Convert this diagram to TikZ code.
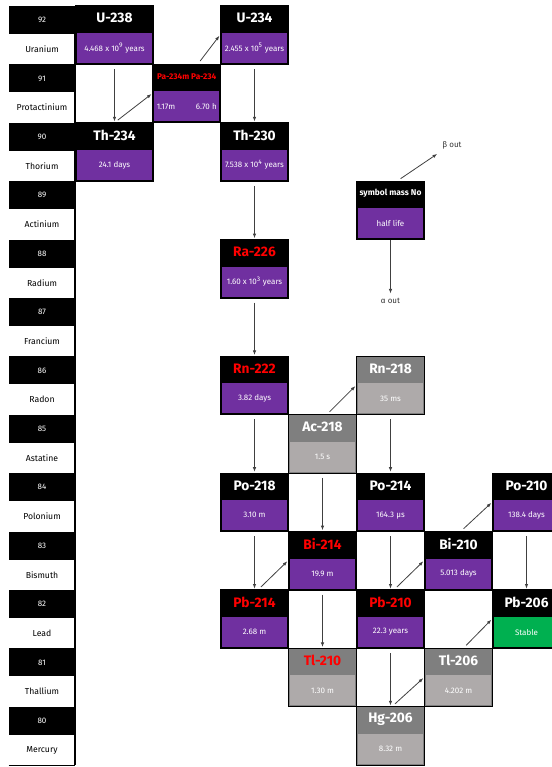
\documentclass[tikz,border=0pt]{standalone}
\usepackage{fontspec}
\setmainfont{Fira Sans}
\usetikzlibrary{arrows.meta}

\definecolor{halfpurple}{HTML}{7030A0}
\definecolor{headgray}{HTML}{7F7F7F}
\definecolor{lifegray}{HTML}{AEAAAA}
\definecolor{stablegreen}{HTML}{00B050}
\definecolor{arrowgray}{HTML}{404040}

\tikzset{
	nucbox/.style={draw=black, line width=1pt, minimum height=43.8pt, inner sep=0pt},
	nuchead/.style={text=white, font=\bfseries\fontsize{10.3}{12}\selectfont, inner sep=0pt},
	nuclife/.style={text=white, font=\fontsize{6}{7}\selectfont, minimum height=22.5pt, inner sep=0pt},
	zcell/.style={fill=black, text=white, minimum width=49.5pt, minimum height=21pt, font=\fontsize{6}{7}\selectfont, inner sep=0pt},
	namecell/.style={fill=white, minimum width=49.5pt, minimum height=22.8pt, font=\fontsize{6.5}{8}\selectfont, inner sep=0pt},
	decay/.style={->, draw=arrowgray, line width=0.6pt},
	alphadecay/.style={decay, shorten <=3pt, shorten >=0.5pt},
	betadecay/.style={decay, shorten <=2.5pt, shorten >=0.5pt},
}

% [width] name, position, head fill, life fill, symbol, half life
\newcommand{\nuc}[7][51pt]{%
	\node[nucbox, minimum width=#1, fill=#4] (#2) at (#3) {};
	\node[nuchead] (#2-sym) at ([yshift=-9.75pt]#2.north) {#6};
	\node[nuclife, minimum width=#1-2pt, fill=#5] (#2-life) at ([yshift=12.75pt]#2.south) {#7};
}

\begin{document}
\begin{tikzpicture}[x=0.75pt, y=-0.75pt, >={Latex[length=3.5pt,width=2.6pt]}]
	\clip (0,0) rectangle (552,767);
	
	% elements
	\foreach \z/\el [count=\i from 0] in {92/Uranium, 91/Protactinium, 90/Thorium, 89/Actinium, 88/Radium, 87/Francium, 86/Radon, 85/Astatine, 84/Polonium, 83/Bismuth, 82/Lead, 81/Thallium, 80/Mercury} {
		\node[zcell] (z\z) at (42, {20+58.4*\i}) {\z};
		\node[namecell] (el\z) at (42, {49.2+58.4*\i}) {\el};
	}
	\draw[line width=1.5pt] (z92.north east) -- (el80.south east);
	\draw[line width=0.8pt] (el80.south west) -- (el80.south east);
	
	% nuclides
	\nuc[57.75pt]{u238}{114.5,35.2}{black}{halfpurple}{U-238}{4.468 x 10\textsuperscript{9} years}
	\nuc{pa234}{186.75,93.6}{black}{halfpurple}{\textcolor{red}{\fontsize{6.2}{7}\selectfont Pa-234m Pa-234}}{\makebox[45pt]{1.17m\hfill 6.70 h}}
	\nuc{u234}{254.5,35.2}{black}{halfpurple}{U-234}{2.455 x 10\textsuperscript{5} years}
	\nuc[57.75pt]{th234}{114.5,152}{black}{halfpurple}{Th-234}{24.1 days}
	\nuc{th230}{254.5,152}{black}{halfpurple}{Th-230}{7.538 x 10\textsuperscript{4} years}
	\nuc{ra226}{254.5,268.8}{black}{halfpurple}{\textcolor{red}{Ra-226}}{1.60 x 10\textsuperscript{3} years}
	\nuc{rn222}{254.5,385.6}{black}{halfpurple}{\textcolor{red}{Rn-222}}{3.82 days}
	\nuc{rn218}{390.5,385.6}{headgray}{lifegray}{Rn-218}{35 ms}
	\nuc{ac218}{322.5,444}{headgray}{lifegray}{Ac-218}{1.5 s}
	\nuc{po218}{254.5,502.4}{black}{halfpurple}{Po-218}{3.10 m}
	\nuc{po214}{390.5,502.4}{black}{halfpurple}{Po-214}{164.3 μs}
	\nuc{po210}{526.5,502.4}{black}{halfpurple}{Po-210}{138.4 days}
	\nuc{bi214}{322.5,560.8}{black}{halfpurple}{\textcolor{red}{Bi-214}}{19.9 m}
	\nuc{bi210}{458.5,560.8}{black}{halfpurple}{Bi-210}{5.013 days}
	\nuc{pb214}{254.5,619.2}{black}{halfpurple}{\textcolor{red}{Pb-214}}{2.68 m}
	\nuc{pb210}{390.5,619.2}{black}{halfpurple}{\textcolor{red}{Pb-210}}{22.3 years}
	\nuc{pb206}{526.5,619.2}{black}{stablegreen}{Pb-206}{Stable}
	\nuc{tl210}{322.5,677.6}{headgray}{lifegray}{\textcolor{red}{Tl-210}}{1.30 m}
	\nuc{tl206}{458.5,677.6}{headgray}{lifegray}{Tl-206}{4.202 m}
	\nuc{hg206}{390.5,736}{headgray}{lifegray}{Hg-206}{8.32 m}
	
	% key
	\nuc{legend}{390.5,210.4}{black}{halfpurple}{\fontsize{6.3}{7}\selectfont symbol mass No}{half life}
	\node[font=\fontsize{6}{7}\selectfont, text=black!80] (betaout) at (452,145) {β out};
	\node[font=\fontsize{6}{7}\selectfont, text=black!80] (alphaout) at (390.5,301) {α out};
	\draw[betadecay] ([xshift=5.5pt]legend.north) -- (betaout.south west);
	\draw[decay] (legend.south) -- (alphaout.north);
	
	% alpha decays
	\draw[alphadecay] (u238) -- (th234);
	\draw[alphadecay] (u234) -- (th230);
	\draw[alphadecay] (th230) -- (ra226);
	\draw[alphadecay] (ra226) -- (rn222);
	\draw[alphadecay] (rn222) -- (po218);
	\draw[alphadecay] (rn218) -- (po214);
	\draw[alphadecay] (ac218) -- (bi214);
	\draw[alphadecay] (po218) -- (pb214);
	\draw[alphadecay] (po214) -- (pb210);
	\draw[alphadecay] (po210) -- (pb206);
	\draw[alphadecay] (bi214) -- (tl210);
	\draw[alphadecay] (pb210) -- (hg206);
	
	% beta decays
	\draw[betadecay] ([xshift=0.5pt]th234.north) -- (pa234.west);
	\draw[betadecay] ([xshift=8.5pt]pa234.north) -- (u234.west);
	\draw[betadecay] ([xshift=3.5pt]ac218.north) -- (rn218.west);
	\draw[betadecay] ([xshift=3pt]pb214.north) -- (bi214.west);
	\draw[betadecay] ([xshift=3pt]pb210.north) -- (bi210.west);
	\draw[betadecay] ([xshift=2pt]bi210.north) -- (po210.west);
	\draw[betadecay] ([xshift=1.5pt]hg206.north) -- (tl206.west);
	\draw[betadecay] ([xshift=4pt]tl206.north) -- (pb206.west);
\end{tikzpicture}
\end{document}
